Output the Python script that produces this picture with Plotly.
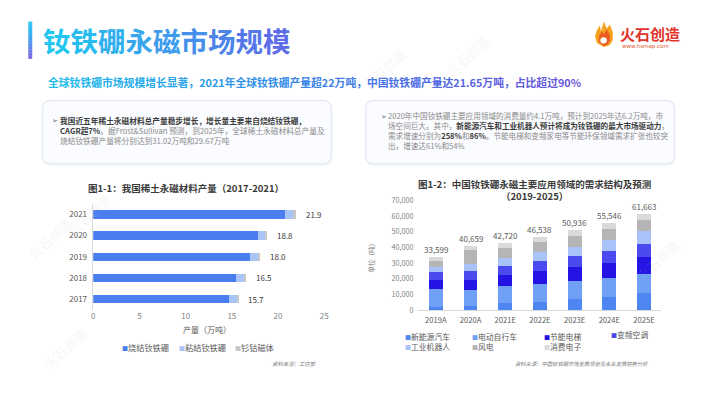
import plotly.graph_objects as go

W, H = 710, 398
FONT = "Noto Sans CJK SC, Noto Sans, DejaVu Sans, sans-serif"

# ---------------- data: left chart ----------------
years = ["2017", "2018", "2019", "2020", "2021"]
left_series = ["烧结钕铁硼", "粘结钕铁硼", "钐钴磁体"]
sintered = [14.7, 15.5, 17.0, 17.8, 20.7]
bonded = [0.9, 0.9, 0.9, 0.9, 1.0]
smco = [0.1, 0.1, 0.1, 0.1, 0.2]
left_totals = [15.7, 16.5, 18.0, 18.8, 21.9]
left_ticks = [0, 5, 10, 15, 20, 25]

# ---------------- data: right chart ----------------
periods = ["2019A", "2020A", "2021E", "2022E", "2023E", "2024E", "2025E"]
right_series = ["新能源汽车", "电动自行车", "节能电梯", "变频空调", "工业机器人", "风电", "消费电子"]
nev = [2300, 2900, 4400, 5000, 7000, 8300, 10800]
ebike = [11000, 10000, 11000, 11800, 11800, 12400, 12400]
elevator = [5800, 6500, 7200, 8300, 8500, 9500, 10800]
aircon = [5200, 5400, 5600, 6000, 7300, 7300, 8500]
robot = [3500, 4500, 4800, 6200, 6000, 7200, 7700]
wind = [3700, 8900, 6600, 6200, 6800, 7100, 7300]
consumer = [2099, 2459, 3120, 3038, 3536, 3746, 4163]
right_totals = [33599, 40659, 42720, 46538, 50936, 55546, 61663]
right_ticks = [0, 10000, 20000, 30000, 40000, 50000, 60000, 70000]

left_colors = ["#4A7EF0", "#A9C4F6", "#C8C8C8"]
right_colors = ["#4D86F0", "#6FA0F5", "#2414E4", "#4B4AEE", "#A7C3FA", "#B5B5B5", "#DADADA"]


def X(px):
    return px / W


def Y(py):
    return 1 - py / H


def hexmix(c1, c2, t):
    a = [int(c1[i:i + 2], 16) for i in (1, 3, 5)]
    b = [int(c2[i:i + 2], 16) for i in (1, 3, 5)]
    return "#" + "".join(f"{round(a[k] + (b[k] - a[k]) * t):02x}" for k in range(3))


def gradient_text(s, stops):
    n = len(s)
    out = []
    for i, ch in enumerate(s):
        t = i / max(n - 1, 1)
        seg = min(int(t * (len(stops) - 1)), len(stops) - 2)
        lt = t * (len(stops) - 1) - seg
        out.append(f"<span style='color:{hexmix(stops[seg], stops[seg + 1], lt)}'>{ch}</span>")
    return "".join(out)


def rrect(x0, y0, x1, y1, r):
    return (f"M {X(x0 + r)},{Y(y0)} L {X(x1 - r)},{Y(y0)} Q {X(x1)},{Y(y0)} {X(x1)},{Y(y0 + r)} "
            f"L {X(x1)},{Y(y1 - r)} Q {X(x1)},{Y(y1)} {X(x1 - r)},{Y(y1)} "
            f"L {X(x0 + r)},{Y(y1)} Q {X(x0)},{Y(y1)} {X(x0)},{Y(y1 - r)} "
            f"L {X(x0)},{Y(y0 + r)} Q {X(x0)},{Y(y0)} {X(x0 + r)},{Y(y0)} Z")


def poly(pts):
    return "M " + " L ".join(f"{X(a)},{Y(b)}" for a, b in pts) + " Z"


def leg_item(name, col):
    return f"<span style='color:{col};font-size:6px'>■</span>{name}"


fig = go.Figure()

# left stacked horizontal bars
for name, vals, col in zip(left_series, [sintered, bonded, smco], left_colors):
    fig.add_trace(go.Bar(y=years, x=vals, name=name, orientation="h", marker=dict(color=col, line=dict(width=0)),
                         xaxis="x", yaxis="y", showlegend=False, hoverinfo="skip"))

# right stacked vertical bars
for name, vals, col in zip(right_series, [nev, ebike, elevator, aircon, robot, wind, consumer], right_colors):
    fig.add_trace(go.Bar(x=periods, y=vals, name=name, marker=dict(color=col, line=dict(width=0)),
                         xaxis="x2", yaxis="y2", showlegend=False, hoverinfo="skip"))

ann = []
shapes = []

# faint watermarks in empty areas
for wx, wy in [(385, 38), (470, 24), (20, 268), (35, 380), (690, 290), (60, 215)]:
    ann.append(dict(x=X(wx), y=Y(wy), xref="paper", yref="paper", showarrow=False, text="<b>火石创造</b>",
                    textangle=-42, font=dict(size=13, color="rgba(190,190,190,0.11)", family=FONT)))

# data labels (category axis positions given by category index)
for i, tv in enumerate(left_totals):
    ann.append(dict(x=tv, y=i, xref="x", yref="y", text=f"{tv:.1f}", showarrow=False,
                    xanchor="left", yanchor="middle", xshift=8, font=dict(size=8, color="#3a3a3a")))
for i, tv in enumerate(right_totals):
    ann.append(dict(x=i, y=tv, xref="x2", yref="y2", text=f"{tv:,}", showarrow=False,
                    yanchor="bottom", yshift=0, font=dict(size=8, color="#595959")))

# ---------- header ----------
bar_stops = ["#30C6F0", "#3AB0F0", "#5C8AEE", "#7A6BE6"]
nseg = 12
for i in range(nseg):
    t = i / (nseg - 1)
    seg = min(int(t * 3), 2)
    c = hexmix(bar_stops[seg], bar_stops[seg + 1], t * 3 - seg)
    y0 = 17 + i * (38 / nseg)
    shapes.append(dict(type="rect", xref="paper", yref="paper", x0=X(26.5), x1=X(30.5),
                       y0=Y(y0 + 38 / nseg + 0.3), y1=Y(y0), fillcolor=c, line_width=0, layer="above"))

ann.append(dict(x=X(39), y=Y(36), xref="paper", yref="paper", xanchor="left", yanchor="middle",
                showarrow=False,
                text="<b>" + gradient_text("钕铁硼永磁市场规模", ["#22C6EE", "#3E9CEC", "#5C6BE8"]) + "</b>",
                font=dict(size=27.5, family=FONT)))

sub = "全球钕铁硼市场规模增长显著，2021年全球钕铁硼产量超22万吨，中国钕铁硼产量达21.65万吨，占比超过90%"
ann.append(dict(x=X(44), y=Y(79), xref="paper", yref="paper", xanchor="left", yanchor="middle",
                showarrow=False,
                text="<b>" + gradient_text(sub, ["#1FBCEB", "#2F96EA", "#4E6EE6", "#6A55D8"]) + "</b>",
                font=dict(size=10.8, family=FONT)))

# logo
shapes.append(dict(type="path", xref="paper", yref="paper", layer="above",
                   path=poly([(607, 43), (600, 39), (598, 32), (600, 26), (603, 21), (604, 27),
                              (607, 17), (610, 24), (613, 20), (616, 28), (616, 36), (613, 41)]),
                   fillcolor="#F4A11E", line_width=0))
shapes.append(dict(type="path", xref="paper", yref="paper", layer="above",
                   path=poly([(607, 42), (602, 38), (602, 32), (605, 27), (607, 30), (610, 25),
                              (613, 31), (613, 37), (610, 41)]),
                   fillcolor="#EB5B22", line_width=0))
shapes.append(dict(type="circle", xref="paper", yref="paper", layer="above",
                   x0=X(603.5), x1=X(610), y0=Y(39.5), y1=Y(33), fillcolor="white", line_width=0))
ann.append(dict(x=X(621), y=Y(29), xref="paper", yref="paper", xanchor="left", yanchor="middle",
                showarrow=False, text="<b>火石创造</b>", font=dict(size=15, color="#E2342A", family=FONT)))
ann.append(dict(x=X(623), y=Y(42.5), xref="paper", yref="paper", xanchor="left", yanchor="middle",
                showarrow=False, text="www.hsmap.com", font=dict(size=5.5, color="#E05A2E", family="DejaVu Sans")))

# ---------- text boxes ----------
for (x0, y0, x1, y1) in [(41, 98, 332, 163), (367, 98, 678, 163)]:
    shapes.append(dict(type="path", xref="paper", yref="paper", layer="below",
                       path=rrect(x0 - 1, y0 - 0.5, x1 + 1.5, y1 + 2, 9),
                       fillcolor="rgba(120,140,170,0.07)", line_width=0))
    shapes.append(dict(type="path", xref="paper", yref="paper", layer="below",
                       path=rrect(x0, y0, x1, y1, 8),
                       fillcolor="#FBFCFF", line=dict(color="#DDE5F0", width=1)))

BOLD = "#3C3C3C"
NORM = "#8A8A8A"
left_text = "<br>".join([
    f"<b><span style='color:{BOLD}'>我国近五年稀土永磁材料总产量稳步增长，增长量主要来自烧结钕铁硼，</span></b>",
    f"<b><span style='color:{BOLD}'>CAGR超7%</span></b>。据Frost&amp;Sullivan 预测，到2025年，全球稀土永磁材料总产量及",
    "烧结钕铁硼产量将分别达到31.02万吨和29.67万吨",
])
ann.append(dict(x=X(48), y=Y(118.5), xref="paper", yref="paper", xanchor="left", yanchor="middle",
                showarrow=False, text="➢", font=dict(size=7, color="#6a6a6a", family="DejaVu Sans")))
ann.append(dict(x=X(56.5), y=Y(128.5), xref="paper", yref="paper", xanchor="left", yanchor="middle",
                align="left", showarrow=False, text=left_text,
                font=dict(size=7.7, color=NORM, family=FONT)))

right_text = "<br>".join([
    "2020年中国钕铁硼主要应用领域的消费量约4.1万吨，预计到2025年达6.2万吨，市",
    f"场空间巨大。其中，<b><span style='color:{BOLD}'>新能源汽车和工业机器人预计将成为钕铁硼的最大市场驱动力</span></b>，",
    f"需求增速分别为<b><span style='color:{BOLD}'>258%</span></b>和<b><span style='color:{BOLD}'>86%</span></b>。节能电梯和变频家电等节能环保领域需求扩张也较突",
    "出，增速达61%和54%",
])
ann.append(dict(x=X(380), y=Y(114.5), xref="paper", yref="paper", xanchor="left", yanchor="middle",
                showarrow=False, text="➢", font=dict(size=7, color="#6a6a6a", family="DejaVu Sans")))
ann.append(dict(x=X(387), y=Y(128.8), xref="paper", yref="paper", xanchor="left", yanchor="middle",
                align="left", showarrow=False, text=right_text,
                font=dict(size=7.6, color=NORM, family=FONT)))

# ---------- chart titles ----------
ann.append(dict(x=X(85), y=Y(188), xref="paper", yref="paper", xanchor="left", yanchor="middle",
                showarrow=False, text="<b>图1-1：我国稀土永磁材料产量（2017-2021）</b>",
                font=dict(size=9.5, color="#3a3a3a", family=FONT)))
ann.append(dict(x=X(537), y=Y(189.8), xref="paper", yref="paper", xanchor="center", yanchor="middle",
                align="center", showarrow=False,
                text="<b>图1-2：中国钕铁硼永磁主要应用领域的需求结构及预测<br>（2019-2025）</b>",
                font=dict(size=9.5, color="#3a3a3a", family=FONT)))

# axis titles
ann.append(dict(x=X(207), y=Y(333), xref="paper", yref="paper", xanchor="center", yanchor="middle",
                showarrow=False, text="产量（万吨）", font=dict(size=8, color="#595959", family=FONT)))
ann.append(dict(x=X(372), y=Y(257), xref="paper", yref="paper", xanchor="center", yanchor="middle",
                showarrow=False, text="单位（吨）", textangle=-90,
                font=dict(size=6.5, color="#7f7f7f", family=FONT)))

# ---------- legends ----------
left_leg_x = [119, 176.5, 233]
for name, col, lx in zip(left_series, left_colors, left_leg_x):
    ann.append(dict(x=X(lx), y=Y(351), xref="paper", yref="paper", xanchor="left", yanchor="middle",
                    showarrow=False, text=leg_item(name, col),
                    font=dict(size=8.2, color="#595959", family=FONT)))

# right legend: 4 columns, 2 rows (column k holds items k and k+4)
right_leg_x = [404.5, 471.5, 544.5, 612]
for k, lx in enumerate(right_leg_x):
    items = [leg_item(right_series[k], right_colors[k])]
    if k + 4 < len(right_series):
        items.append(leg_item(right_series[k + 4], right_colors[k + 4]))
    ann.append(dict(x=X(lx), y=Y(337.5 - 5.2) if len(items) == 2 else Y(337.5), xref="paper", yref="paper",
                    xanchor="left", yanchor="top" if len(items) == 2 else "middle", align="left",
                    showarrow=False, text="<br>".join(items),
                    font=dict(size=7.8, color="#595959", family=FONT)))

# sources
ann.append(dict(x=X(320), y=Y(368), xref="paper", yref="paper", xanchor="right", yanchor="middle",
                showarrow=False, text="<i>资料来源：工信部</i>", font=dict(size=5.4, color="#7f7f7f", family=FONT)))
ann.append(dict(x=X(654), y=Y(368), xref="paper", yref="paper", xanchor="right", yanchor="middle",
                showarrow=False, text="<i>资料来源：中国钕铁硼市场发展现状及未来发展趋势分析</i>",
                font=dict(size=5.3, color="#7f7f7f", family=FONT)))

fig.update_layout(
    width=W, height=H,
    margin=dict(l=0, r=0, t=0, b=0),
    paper_bgcolor="white", plot_bgcolor="rgba(0,0,0,0)",
    font=dict(family=FONT, color="#595959"),
    barmode="stack", bargap=0.6,
    showlegend=False,
    xaxis=dict(domain=[X(92), X(325)], range=[0, 25], tickvals=left_ticks, showgrid=False,
               zeroline=False, showline=False, ticks="", tickfont=dict(size=8, color="#7f7f7f"),
               anchor="y", fixedrange=True),
    yaxis=dict(type="category", domain=[Y(312.5), Y(204)], range=[-0.5, len(years) - 0.5],
               categoryorder="array", categoryarray=years, autorange=False,
               showgrid=False, zeroline=False, showline=True, linecolor="#D9D9D9", linewidth=1,
               ticks="", ticksuffix="  ", tickfont=dict(size=8, color="#595959"),
               anchor="x", fixedrange=True),
    xaxis2=dict(type="category", domain=[X(420), X(665)], categoryorder="array", categoryarray=periods,
                showgrid=False, zeroline=False, showline=True, linecolor="#D9D9D9", linewidth=1,
                ticks="", tickfont=dict(size=7.6, color="#595959"), anchor="y2", fixedrange=True,
                ticklabelstandoff=3),
    yaxis2=dict(domain=[Y(313), Y(200.5)], range=[0, 70000], tickvals=right_ticks, tickformat=",",
                showgrid=False, zeroline=False, showline=False, ticks="",
                tickfont=dict(size=7.2, color="#7f7f7f"), anchor="x2", fixedrange=True,
                ticklabelstandoff=4),
    annotations=ann,
    shapes=shapes,
)

fig.write_html("out.html")
